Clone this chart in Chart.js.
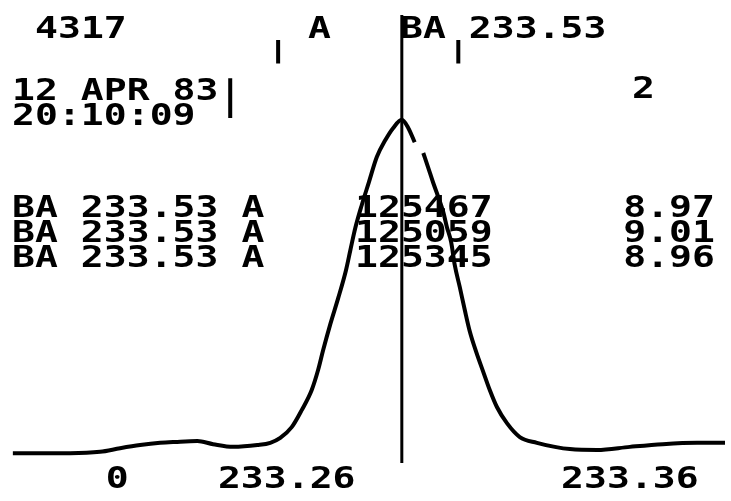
<!DOCTYPE html>
<html>

<head>
  <script src="https://cdn.jsdelivr.net/npm/chart.js@4.4.0/dist/chart.umd.min.js"></script>
  <style>
    body { margin: 0; background: #fff; }
  </style>
</head>

<body>
  <div style="position: relative; width: 731px; height: 501px">
    <canvas id="scan"></canvas>
  </div>
  <script type="text/javascript">
    // scan position (0-100 across the sweep) and detector intensity (% of full scale)
    var scanPos = [0.4, 4.2, 8.4, 12.6, 15.4, 18.2, 21.0, 23.1, 26.2, 28.4, 31.2, 34.6, 36.4, 37.8, 39.4, 40.8,
      42.2, 43.1, 43.8, 44.8, 45.9, 47.0, 47.6, 48.3, 49.2, 50.2, 51.3, 52.5, 53.6, 54.8, 55.7, 56.6, 57.2,
      57.8, 58.5, 59.2, 59.9, 60.6, 61.1, 61.7, 62.2, 62.9, 63.6, 64.3, 65.2, 66.2, 67.1, 68.1, 69.5,
      71.3, 73.7, 76.2, 78.3, 82.1, 86.7, 91.3, 96.1, 100
    ];
    var intensity = [2.2, 2.2, 2.2, 2.5, 3.3, 4.0, 4.5, 4.7, 4.9, 4.2, 3.6, 4.0, 4.5, 5.6, 8.0, 11.8,
      16.3, 20.8, 25.2, 31.0, 36.8, 43.1, 47.5, 52.5, 57.6, 62.7, 68.3, 72.1, 74.8, 76.6, 74.8, 71.6, null,
      69.2, 65.9, 62.5, 59.4, 56.0, 52.7, 49.3, 44.2, 39.3, 34.2, 29.4, 24.8, 20.3, 16.3, 12.5, 8.9,
      5.8, 4.5, 3.6, 3.1, 2.9, 3.6, 4.2, 4.5, 4.5
    ];

    // centre marker and the small window marks
    var markerPos = 54.8;
    var windowMarks = [37.5, 62.7];
    var dateBarPos = 30.8;

    // printed text
    var headerText = ['4317', 'A', 'BA 233.53'];
    var dateText = ['12 APR 83', '20:10:09'];
    var channelText = '2';
    var rowNames = ['BA 233.53 A', 'BA 233.53 A', 'BA 233.53 A'];
    var rowCounts = ['125467', '125059', '125345'];
    var rowTimes = ['8.97', '9.01', '8.96'];
    var xTickPos = [15.0, 38.7, 86.7];
    var xTickLabels = ['0', '233.26', '233.36'];

    var SX = 1.27; // plotter characters are wide
    var FONT = 'bold 30px "DejaVu Sans Mono"';

    function put(ctx, str, x, y, align) {
      ctx.save();
      ctx.translate(x, y);
      ctx.scale(SX, 1);
      ctx.textAlign = align || 'left';
      ctx.fillText(str, 0, 0);
      ctx.restore();
    }

    var printText = {
      id: 'printText',
      afterDraw: function(chart) {
        var ctx = chart.ctx;
        var xs = chart.scales.x;
        var a = chart.chartArea;
        ctx.save();
        ctx.fillStyle = '#000';
        ctx.font = FONT;
        ctx.textBaseline = 'alphabetic';
        put(ctx, headerText[0], 35, 38);
        put(ctx, headerText[1], 308, 38);
        put(ctx, headerText[2], 400, 38);
        put(ctx, dateText[0], 12, 100);
        put(ctx, dateText[1], 12, 125);
        put(ctx, channelText, 632, 98);
        for (var i = 0; i < rowNames.length; i++) {
          var y = 217 + i * 25;
          put(ctx, rowNames[i], 12, y);
          put(ctx, rowCounts[i], 355, y);
          put(ctx, rowTimes[i], 715, y, 'right');
        }
        xTickPos.forEach(function(v, i) {
          put(ctx, xTickLabels[i], xs.getPixelForValue(v), a.bottom + 25, 'center');
        });
        ctx.restore();
      }
    };

    var curve = scanPos.map(function(x, i) {
      return { x: x, y: intensity[i] };
    });
    var marks = [];
    windowMarks.forEach(function(x) {
      marks.push({ x: x, y: 94.4 }, { x: x, y: 89.2 }, { x: x, y: null });
    });
    marks.push({ x: dateBarPos, y: 85.9 }, { x: dateBarPos, y: 77.0 });

    var ctx = document.getElementById('scan').getContext('2d');
    var chart = new Chart(ctx, {
      type: 'line',
      data: {
        datasets: [{
            label: 'scan',
            data: curve,
            borderColor: '#000',
            borderWidth: 4,
            pointRadius: 0,
            cubicInterpolationMode: 'monotone',
            spanGaps: false
          },
          {
            label: 'marker',
            data: [{ x: markerPos, y: 0 }, { x: markerPos, y: 100 }],
            borderColor: '#000',
            borderWidth: 3,
            pointRadius: 0
          },
          {
            label: 'window',
            data: marks,
            borderColor: '#000',
            borderWidth: 4,
            pointRadius: 0,
            spanGaps: false
          }
        ]
      },
      options: {
        responsive: true,
        maintainAspectRatio: false,
        animation: false,
        layout: {
          padding: { left: 10, right: 6, top: 15, bottom: 38 }
        },
        scales: {
          x: { type: 'linear', min: 0, max: 100, display: false },
          y: { min: 0, max: 100, display: false }
        },
        plugins: {
          legend: { display: false },
          tooltip: { enabled: false }
        }
      },
      plugins: [printText]
    });
  </script>
</body>

</html>
